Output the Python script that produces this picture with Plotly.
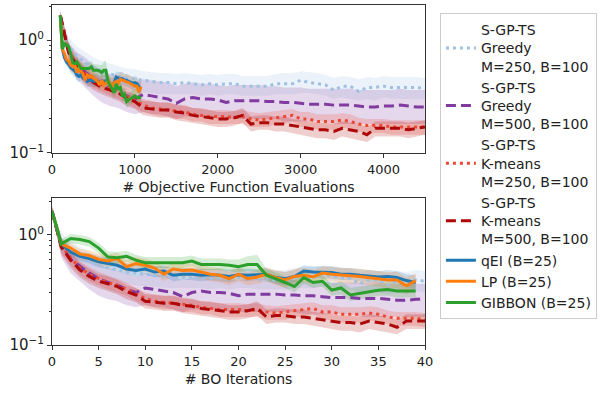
import plotly.graph_objects as go

# iteration indices
sgp_iters = list(range(45))      # S-GP-TS, batch of 100 -> evals = 100 + 100*i
b25_iters = list(range(40))      # batch of 25 methods -> evals = 100 + 25*i
sgp_evals = [100 + 100 * i for i in sgp_iters]
b25_evals = [100 + 25 * i for i in b25_iters]

greedy250 = [1.65, 0.88, 0.72, 0.63, 0.57, 0.53, 0.50, 0.48, 0.46, 0.45, 0.44, 0.43, 0.42, 0.42, 0.41,
             0.42, 0.41, 0.40, 0.41, 0.40, 0.41, 0.41, 0.39, 0.39, 0.39, 0.39, 0.41, 0.41, 0.41, 0.44,
             0.42, 0.41, 0.40, 0.36, 0.39, 0.39, 0.35, 0.38, 0.38, 0.39, 0.38, 0.38, 0.38, 0.38, 0.37]
greedy250_lo = [1.5, 0.72, 0.58, 0.50, 0.45, 0.42, 0.40, 0.38, 0.36, 0.35, 0.34, 0.34, 0.33, 0.33, 0.33,
                0.33, 0.33, 0.32, 0.33, 0.32, 0.33, 0.33, 0.32, 0.32, 0.32, 0.32, 0.33, 0.33, 0.33, 0.34,
                0.34, 0.33, 0.32, 0.30, 0.31, 0.30, 0.29, 0.30, 0.29, 0.31, 0.30, 0.30, 0.30, 0.30, 0.30]
greedy250_hi = [1.8, 1.05, 0.88, 0.78, 0.70, 0.65, 0.62, 0.59, 0.56, 0.55, 0.53, 0.52, 0.51, 0.51, 0.50,
                0.51, 0.50, 0.49, 0.50, 0.49, 0.50, 0.50, 0.48, 0.48, 0.48, 0.48, 0.50, 0.51, 0.51, 0.53,
                0.52, 0.51, 0.49, 0.46, 0.48, 0.47, 0.45, 0.47, 0.46, 0.48, 0.47, 0.47, 0.47, 0.47, 0.46]

greedy500 = [1.65, 0.78, 0.60, 0.52, 0.45, 0.40, 0.37, 0.35, 0.32, 0.30, 0.33, 0.32, 0.31, 0.30, 0.275,
             0.30, 0.31, 0.30, 0.30, 0.295, 0.28, 0.29, 0.29, 0.29, 0.29, 0.285, 0.285, 0.28, 0.28, 0.275,
             0.27, 0.27, 0.27, 0.265, 0.265, 0.265, 0.26, 0.255, 0.255, 0.26, 0.26, 0.265, 0.26, 0.255, 0.255]
greedy500_lo = [1.5, 0.62, 0.45, 0.38, 0.32, 0.28, 0.26, 0.25, 0.23, 0.22, 0.23, 0.22, 0.22, 0.21, 0.20,
                0.21, 0.21, 0.21, 0.21, 0.20, 0.20, 0.20, 0.20, 0.20, 0.20, 0.20, 0.20, 0.19, 0.19, 0.19,
                0.19, 0.19, 0.19, 0.18, 0.18, 0.18, 0.18, 0.18, 0.18, 0.18, 0.18, 0.18, 0.18, 0.18, 0.18]
greedy500_hi = [1.8, 0.95, 0.78, 0.70, 0.60, 0.54, 0.50, 0.47, 0.44, 0.42, 0.45, 0.44, 0.43, 0.42, 0.39,
                0.41, 0.42, 0.41, 0.41, 0.40, 0.39, 0.40, 0.40, 0.40, 0.40, 0.39, 0.39, 0.38, 0.38, 0.38,
                0.37, 0.37, 0.37, 0.37, 0.37, 0.37, 0.36, 0.36, 0.36, 0.36, 0.36, 0.37, 0.36, 0.36, 0.36]

kmeans250 = [1.65, 0.80, 0.62, 0.50, 0.44, 0.40, 0.37, 0.35, 0.32, 0.29, 0.265, 0.25, 0.245, 0.24, 0.235,
             0.23, 0.22, 0.215, 0.21, 0.21, 0.21, 0.205, 0.21, 0.20, 0.195, 0.20, 0.205, 0.21, 0.215, 0.20,
             0.20, 0.19, 0.19, 0.19, 0.195, 0.19, 0.18, 0.175, 0.175, 0.175, 0.17, 0.17, 0.17, 0.17, 0.17]
kmeans250_lo = [1.5, 0.68, 0.53, 0.43, 0.38, 0.35, 0.32, 0.30, 0.28, 0.25, 0.23, 0.22, 0.21, 0.21, 0.20,
                0.20, 0.19, 0.19, 0.18, 0.18, 0.18, 0.18, 0.18, 0.17, 0.17, 0.17, 0.18, 0.18, 0.19, 0.17,
                0.17, 0.16, 0.16, 0.16, 0.17, 0.16, 0.155, 0.15, 0.15, 0.15, 0.145, 0.145, 0.145, 0.145, 0.145]
kmeans250_hi = [1.8, 0.94, 0.72, 0.58, 0.51, 0.46, 0.43, 0.40, 0.37, 0.33, 0.30, 0.29, 0.28, 0.28, 0.27,
                0.265, 0.25, 0.25, 0.24, 0.24, 0.24, 0.235, 0.24, 0.23, 0.225, 0.23, 0.235, 0.24, 0.245, 0.23,
                0.23, 0.22, 0.22, 0.22, 0.225, 0.22, 0.205, 0.20, 0.20, 0.20, 0.195, 0.195, 0.195, 0.195, 0.195]

kmeans500 = [1.65, 0.78, 0.59, 0.48, 0.42, 0.38, 0.36, 0.34, 0.305, 0.285, 0.25, 0.245, 0.24, 0.24, 0.23,
             0.225, 0.215, 0.21, 0.205, 0.20, 0.20, 0.205, 0.215, 0.18, 0.185, 0.185, 0.18, 0.18, 0.175, 0.17,
             0.165, 0.16, 0.16, 0.155, 0.165, 0.16, 0.155, 0.145, 0.165, 0.165, 0.165, 0.165, 0.16, 0.165, 0.17]
kmeans500_lo = [1.5, 0.66, 0.50, 0.41, 0.36, 0.33, 0.31, 0.29, 0.26, 0.245, 0.215, 0.21, 0.205, 0.205, 0.195,
                0.19, 0.185, 0.18, 0.175, 0.17, 0.17, 0.175, 0.185, 0.155, 0.16, 0.16, 0.155, 0.155, 0.15, 0.145,
                0.14, 0.135, 0.135, 0.13, 0.14, 0.135, 0.13, 0.125, 0.14, 0.14, 0.14, 0.14, 0.135, 0.14, 0.145]
kmeans500_hi = [1.8, 0.92, 0.69, 0.56, 0.49, 0.44, 0.42, 0.39, 0.35, 0.33, 0.29, 0.285, 0.28, 0.28, 0.265,
                0.26, 0.25, 0.245, 0.24, 0.23, 0.23, 0.235, 0.25, 0.21, 0.215, 0.215, 0.21, 0.21, 0.20, 0.195,
                0.19, 0.185, 0.185, 0.18, 0.19, 0.185, 0.18, 0.17, 0.19, 0.19, 0.19, 0.19, 0.185, 0.19, 0.195]

qei = [1.65, 0.83, 0.70, 0.64, 0.61, 0.57, 0.55, 0.53, 0.49, 0.475, 0.49, 0.46, 0.47, 0.43, 0.44,
       0.44, 0.43, 0.435, 0.43, 0.42, 0.435, 0.43, 0.435, 0.44, 0.41, 0.40, 0.42, 0.47, 0.46, 0.455,
       0.455, 0.44, 0.44, 0.43, 0.42, 0.415, 0.42, 0.41, 0.385, 0.37]
qei_lo = [1.5, 0.76, 0.64, 0.58, 0.55, 0.51, 0.49, 0.47, 0.44, 0.42, 0.44, 0.41, 0.42, 0.38, 0.39,
          0.39, 0.38, 0.39, 0.38, 0.37, 0.39, 0.38, 0.39, 0.39, 0.36, 0.35, 0.37, 0.42, 0.41, 0.40,
          0.40, 0.39, 0.39, 0.38, 0.37, 0.365, 0.37, 0.36, 0.335, 0.32]
qei_hi = [1.8, 0.91, 0.77, 0.71, 0.68, 0.64, 0.62, 0.60, 0.55, 0.54, 0.55, 0.52, 0.53, 0.49, 0.50,
          0.50, 0.49, 0.49, 0.49, 0.48, 0.49, 0.49, 0.49, 0.50, 0.47, 0.46, 0.48, 0.53, 0.52, 0.52,
          0.52, 0.50, 0.50, 0.49, 0.48, 0.47, 0.48, 0.47, 0.44, 0.43]

lp = [1.65, 0.83, 0.76, 0.67, 0.65, 0.60, 0.58, 0.61, 0.515, 0.55, 0.53, 0.50, 0.44, 0.49, 0.475,
      0.48, 0.46, 0.44, 0.43, 0.40, 0.44, 0.40, 0.415, 0.44, 0.41, 0.39, 0.42, 0.43, 0.415, 0.45,
      0.44, 0.43, 0.425, 0.42, 0.41, 0.40, 0.39, 0.39, 0.345, 0.385]
lp_lo = [1.5, 0.76, 0.69, 0.60, 0.58, 0.53, 0.51, 0.54, 0.45, 0.48, 0.46, 0.44, 0.38, 0.43, 0.41,
         0.42, 0.40, 0.38, 0.37, 0.35, 0.38, 0.35, 0.36, 0.38, 0.35, 0.33, 0.36, 0.37, 0.36, 0.39,
         0.38, 0.37, 0.36, 0.36, 0.35, 0.34, 0.33, 0.33, 0.29, 0.33]
lp_hi = [1.8, 0.91, 0.84, 0.75, 0.73, 0.68, 0.66, 0.69, 0.59, 0.63, 0.61, 0.57, 0.51, 0.56, 0.55,
         0.55, 0.53, 0.51, 0.50, 0.46, 0.51, 0.46, 0.48, 0.51, 0.48, 0.46, 0.49, 0.50, 0.48, 0.52,
         0.51, 0.50, 0.50, 0.49, 0.48, 0.47, 0.46, 0.46, 0.41, 0.45]

gibbon = [1.65, 0.83, 0.93, 0.91, 0.87, 0.76, 0.63, 0.62, 0.64, 0.59, 0.56, 0.56, 0.56, 0.56, 0.56,
          0.58, 0.54, 0.54, 0.54, 0.53, 0.515, 0.54, 0.54, 0.43, 0.40, 0.37, 0.34, 0.41, 0.37, 0.38,
          0.316, 0.33, 0.285, 0.295, 0.305, 0.315, 0.32, 0.31, 0.31, 0.31]
gibbon_lo = [1.5, 0.76, 0.84, 0.82, 0.78, 0.68, 0.56, 0.55, 0.57, 0.53, 0.50, 0.50, 0.50, 0.50, 0.50,
             0.52, 0.48, 0.48, 0.48, 0.47, 0.46, 0.47, 0.46, 0.38, 0.36, 0.33, 0.30, 0.36, 0.33, 0.34,
             0.28, 0.29, 0.25, 0.26, 0.27, 0.28, 0.28, 0.27, 0.27, 0.27]
gibbon_hi = [1.8, 0.91, 1.02, 1.00, 0.96, 0.85, 0.71, 0.70, 0.72, 0.66, 0.63, 0.63, 0.63, 0.63, 0.63,
             0.65, 0.61, 0.61, 0.61, 0.60, 0.60, 0.64, 0.66, 0.49, 0.45, 0.42, 0.39, 0.47, 0.42, 0.43,
             0.36, 0.38, 0.33, 0.34, 0.35, 0.36, 0.37, 0.36, 0.36, 0.36]

# (name, mean, lo, hi, color rgb, dash, batch of 100?)
series = [
    ("S-GP-TS<br>Greedy<br>M=250, B=100", greedy250, greedy250_lo, greedy250_hi, (158, 192, 226), "3px,4px", True),
    ("S-GP-TS<br>Greedy<br>M=500, B=100", greedy500, greedy500_lo, greedy500_hi, (128, 58, 160), "10px,5px", True),
    ("S-GP-TS<br>K-means<br>M=250, B=100", kmeans250, kmeans250_lo, kmeans250_hi, (236, 72, 52), "3px,4px", True),
    ("S-GP-TS<br>K-means<br>M=500, B=100", kmeans500, kmeans500_lo, kmeans500_hi, (175, 8, 8), "10px,5px", True),
    ("qEI (B=25)", qei, qei_lo, qei_hi, (31, 119, 180), "solid", False),
    ("LP (B=25)", lp, lp_lo, lp_hi, (255, 127, 14), "solid", False),
    ("GIBBON (B=25)", gibbon, gibbon_lo, gibbon_hi, (44, 160, 44), "solid", False),
]

fig = go.Figure()

# shaded bands first, on both panels
for name, mean, lo, hi, rgb, dash, big in series:
    fill = "rgba(%d,%d,%d,0.2)" % rgb
    x_top = sgp_evals if big else b25_evals
    x_bot = sgp_iters if big else b25_iters
    for xs, xa, ya in [(x_top, "x", "y"), (x_bot, "x2", "y2")]:
        fig.add_trace(go.Scatter(
            x=list(xs) + list(xs)[::-1], y=list(hi) + list(lo)[::-1],
            fill="toself", fillcolor=fill, line=dict(width=0), mode="lines",
            hoverinfo="skip", showlegend=False, xaxis=xa, yaxis=ya))

# mean lines
for name, mean, lo, hi, rgb, dash, big in series:
    col = "rgb(%d,%d,%d)" % rgb
    x_top = sgp_evals if big else b25_evals
    x_bot = sgp_iters if big else b25_iters
    fig.add_trace(go.Scatter(x=x_top, y=mean, mode="lines", name=name,
                             line=dict(color=col, width=3, dash=dash), xaxis="x", yaxis="y"))
    fig.add_trace(go.Scatter(x=x_bot, y=mean, mode="lines", name=name, showlegend=False,
                             line=dict(color=col, width=3, dash=dash), xaxis="x2", yaxis="y2"))

minor_vals = [0.2, 0.3, 0.4, 0.5, 0.6, 0.7, 0.8, 0.9, 2]
axis_style = dict(showline=True, linecolor="#333", linewidth=1, mirror=True, ticks="outside",
                  ticklen=4, tickcolor="#333", showgrid=False, zeroline=False, automargin=False,
                  tickfont=dict(size=13, color="#222"))
yaxis_style = dict(axis_style, type="log", tickvals=[0.1, 1],
                   ticktext=["10<sup>\u22121</sup>", "10<sup>0</sup>"], tickfont=dict(size=15, color="#222"),
                   minor=dict(tickvals=minor_vals, ticks="outside", ticklen=2, tickcolor="#333"))

fig.update_layout(
    width=610, height=393,
    margin=dict(l=52, r=185, t=5, b=48),
    paper_bgcolor="white", plot_bgcolor="white",
    font=dict(family="DejaVu Sans", size=14, color="#222"),
    xaxis=dict(axis_style, domain=[0, 1], anchor="y", range=[0, 4500],
               tickvals=[0, 1000, 2000, 3000, 4000],
               title=dict(text="# Objective Function Evaluations", standoff=6, font=dict(size=14))),
    yaxis=dict(yaxis_style, domain=[0.565, 1], anchor="x", range=[-1, 0.31]),
    xaxis2=dict(axis_style, domain=[0, 1], anchor="y2", range=[0, 40], dtick=5,
                title=dict(text="# BO Iterations", standoff=6, font=dict(size=14))),
    yaxis2=dict(yaxis_style, domain=[0, 0.432], anchor="x2", range=[-1, 0.335]),
    legend=dict(x=1.04, y=0.976, xanchor="left", yanchor="top",
                bordercolor="#cccccc", borderwidth=1, bgcolor="white",
                font=dict(size=14, color="#222"), tracegroupgap=0),
    showlegend=True,
)

# drop the page's default body margin so the figure sits at the window origin
fig.write_html("out.html", config={"displayModeBar": False},
               post_script="document.body.style.margin='0px';")
